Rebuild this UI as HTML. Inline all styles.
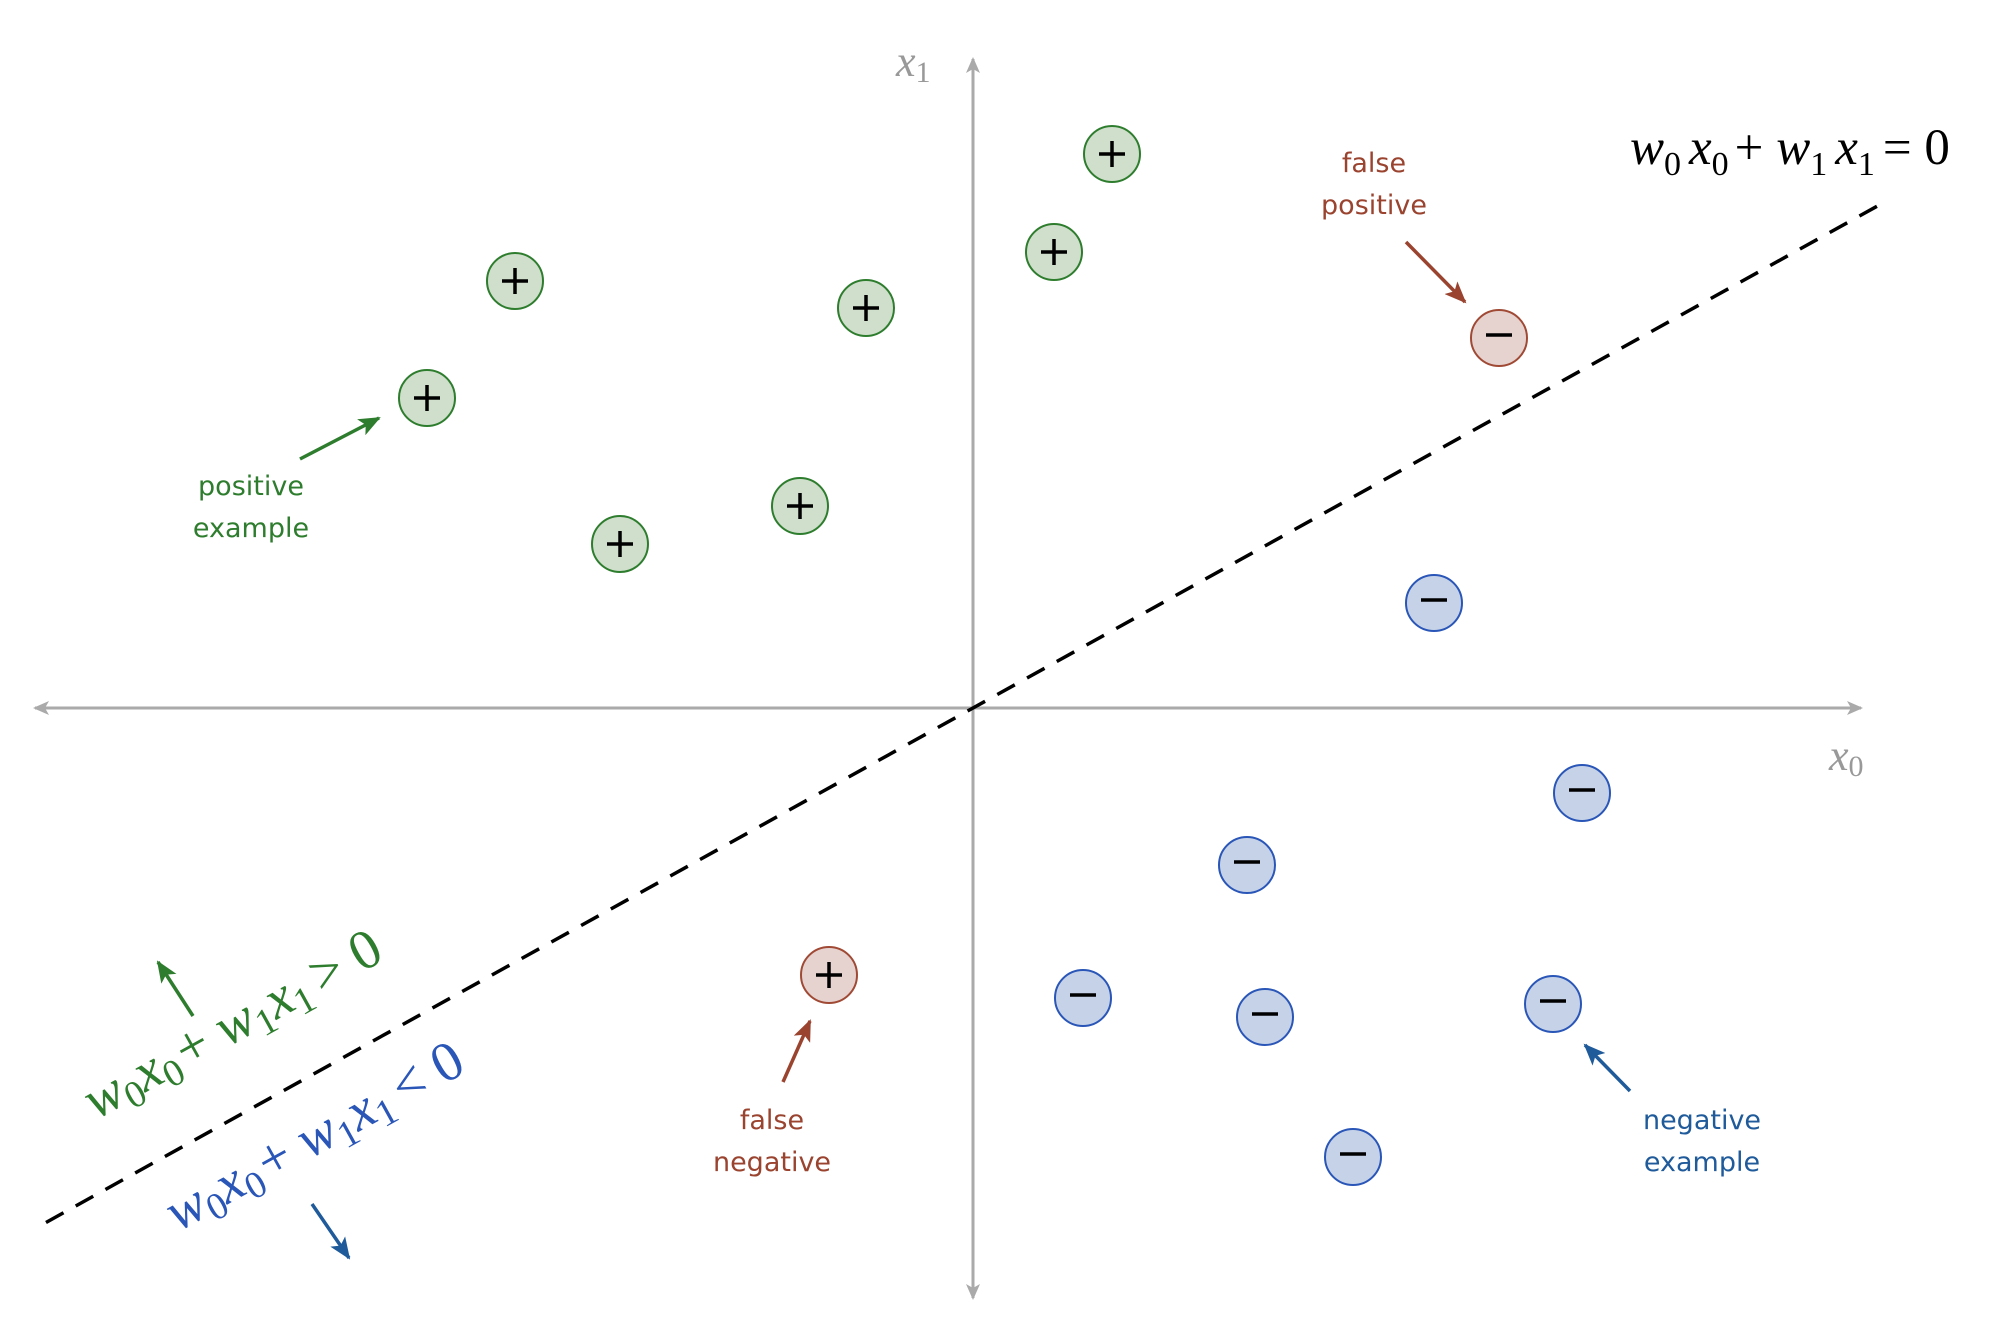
<!DOCTYPE html>
<html><head><meta charset="utf-8"><style>
html,body{margin:0;padding:0;background:#fff;}
svg{display:block;}
.eq{font-family:"Liberation Serif",serif;font-style:italic;}
.lbl{font-family:"DejaVu Sans","Liberation Sans",sans-serif;font-size:27px;text-anchor:middle;}
</style></head><body>
<svg id="chart" width="1999" height="1318" viewBox="0 0 1999 1318" xmlns="http://www.w3.org/2000/svg">
<defs>
<marker id="ag" markerWidth="16" markerHeight="14" refX="14" refY="7" orient="auto" markerUnits="userSpaceOnUse"><path d="M0,0 L16,7 L0,14 L4,7 Z" fill="#aaa"/></marker>
<marker id="agr" markerWidth="22" markerHeight="18" refX="20" refY="9" orient="auto" markerUnits="userSpaceOnUse"><path d="M0,0 L22,9 L0,18 L5,9 Z" fill="#2e7d2e"/></marker>
<marker id="abl" markerWidth="22" markerHeight="18" refX="20" refY="9" orient="auto" markerUnits="userSpaceOnUse"><path d="M0,0 L22,9 L0,18 L5,9 Z" fill="#1f5a9a"/></marker>
<marker id="ard" markerWidth="22" markerHeight="18" refX="20" refY="9" orient="auto" markerUnits="userSpaceOnUse"><path d="M0,0 L22,9 L0,18 L5,9 Z" fill="#9a4430"/></marker>
</defs>
<line x1="973" y1="708" x2="1861" y2="708" stroke="#aaa" stroke-width="3" marker-end="url(#ag)"/>
<line x1="973" y1="708" x2="35" y2="708" stroke="#aaa" stroke-width="3" marker-end="url(#ag)"/>
<line x1="973" y1="708" x2="973" y2="59" stroke="#aaa" stroke-width="3" marker-end="url(#ag)"/>
<line x1="973" y1="708" x2="973" y2="1298" stroke="#aaa" stroke-width="3" marker-end="url(#ag)"/>
<text class="eq" x="896" y="76" font-size="44" fill="#999">x<tspan font-size="30" font-style="normal" dy="6">1</tspan></text>
<text class="eq" x="1829" y="770" font-size="44" fill="#999">x<tspan font-size="30" font-style="normal" dy="6">0</tspan></text>
<g id="boundary"></g>
<g id="points"></g>
<text class="eq" x="1630" y="164" font-size="51" fill="#000">w<tspan font-size="34" font-style="normal" dy="11">0</tspan><tspan dy="-11" dx="8">x</tspan><tspan font-size="34" font-style="normal" dy="11">0</tspan><tspan dy="-11" dx="6" font-style="normal">+ </tspan><tspan>w</tspan><tspan font-size="34" font-style="normal" dy="11">1</tspan><tspan dy="-11" dx="8">x</tspan><tspan font-size="34" font-style="normal" dy="11">1</tspan><tspan dy="-11" dx="8" font-style="normal">= 0</tspan></text>
<text class="eq" transform="translate(96,1120) rotate(-29)" font-size="56" fill="#2e7d2e">w<tspan font-size="38" font-style="normal" dy="9">0</tspan><tspan dy="-9">x</tspan><tspan font-size="38" font-style="normal" dy="9">0</tspan><tspan dy="-9" dx="4" font-style="normal">+ </tspan><tspan>w</tspan><tspan font-size="38" font-style="normal" dy="9">1</tspan><tspan dy="-9">x</tspan><tspan font-size="38" font-style="normal" dy="9">1</tspan><tspan dy="-9" dx="8" font-style="normal">&gt; 0</tspan></text>
<text class="eq" transform="translate(178,1232) rotate(-29)" font-size="56" fill="#2a56b8">w<tspan font-size="38" font-style="normal" dy="9">0</tspan><tspan dy="-9">x</tspan><tspan font-size="38" font-style="normal" dy="9">0</tspan><tspan dy="-9" dx="4" font-style="normal">+ </tspan><tspan>w</tspan><tspan font-size="38" font-style="normal" dy="9">1</tspan><tspan dy="-9">x</tspan><tspan font-size="38" font-style="normal" dy="9">1</tspan><tspan dy="-9" dx="8" font-style="normal">&lt; 0</tspan></text>
<line x1="193" y1="1016" x2="158" y2="962" stroke="#2e7d2e" stroke-width="3.5" marker-end="url(#agr)"/>
<line x1="312" y1="1204" x2="349" y2="1258" stroke="#1f5a9a" stroke-width="3.5" marker-end="url(#abl)"/>
<text class="lbl" fill="#2e7d2e" x="251" y="495">positive<tspan x="251" dy="42">example</tspan></text>
<line x1="300" y1="459" x2="379" y2="418" stroke="#2e7d2e" stroke-width="3.5" marker-end="url(#agr)"/>
<text class="lbl" fill="#9a4430" x="1374" y="172">false<tspan x="1374" dy="42">positive</tspan></text>
<line x1="1406" y1="242" x2="1465" y2="302" stroke="#9a4430" stroke-width="3.5" marker-end="url(#ard)"/>
<text class="lbl" fill="#9a4430" x="772" y="1129">false<tspan x="772" dy="42">negative</tspan></text>
<line x1="783" y1="1082" x2="810" y2="1021" stroke="#9a4430" stroke-width="3.5" marker-end="url(#ard)"/>
<text class="lbl" fill="#1f5a9a" x="1702" y="1129">negative<tspan x="1702" dy="42">example</tspan></text>
<line x1="1630" y1="1091" x2="1585" y2="1045" stroke="#1f5a9a" stroke-width="3.5" marker-end="url(#abl)"/>
</svg>
<script>
const posX = [-4.58, -1.07, -5.46, -1.73, -3.53, 1.39, 0.81];
const posY = [4.27, 4.00, 3.10, 2.02, 1.64, 5.54, 4.56];
const negX = [4.61, 6.09, 2.74, 1.10, 2.92, 5.80, 3.80];
const negY = [1.05, -0.85, -1.57, -2.90, -3.09, -2.96, -4.49];
const fpX = [5.26];
const fpY = [3.70];
const fnX = [-1.44];
const fnY = [-2.67];
const boundarySlope = 0.555;
const boundaryRange = [-9.27, 9.07];

const OX = 973, OY = 708, UNIT = 100;
function sx(v){ return OX + v * UNIT; }
function sy(v){ return OY - v * UNIT; }
const NS = 'http://www.w3.org/2000/svg';

const bg = document.getElementById('boundary');
const bl = document.createElementNS(NS, 'line');


bl.setAttribute('x1', sx(boundaryRange[0]));
bl.setAttribute('y1', sy(boundaryRange[0] * boundarySlope));
bl.setAttribute('x2', sx(boundaryRange[1]));
bl.setAttribute('y2', sy(boundaryRange[1] * boundarySlope));
bl.setAttribute('stroke', '#000');
bl.setAttribute('stroke-width', '3.5');
bl.setAttribute('stroke-dasharray', '20 14');
bg.appendChild(bl);

const pg = document.getElementById('points');
function drawPoint(x, y, fill, stroke, sign, name){
  const g = document.createElementNS(NS, 'g');
  
  
  const cx = sx(x), cy = sy(y);
  const c = document.createElementNS(NS, 'circle');
  c.setAttribute('cx', cx); c.setAttribute('cy', cy); c.setAttribute('r', 28);
  c.setAttribute('fill', fill); c.setAttribute('stroke', stroke); c.setAttribute('stroke-width', '2');
  g.appendChild(c);
  const h = document.createElementNS(NS, 'line');
  h.setAttribute('x1', cx - 13); h.setAttribute('x2', cx + 13);
  h.setAttribute('y1', sign === '+' ? cy : cy - 3); h.setAttribute('y2', sign === '+' ? cy : cy - 3);
  h.setAttribute('stroke', '#000'); h.setAttribute('stroke-width', '3.5');
  g.appendChild(h);
  if (sign === '+') {
    const v = document.createElementNS(NS, 'line');
    v.setAttribute('x1', cx); v.setAttribute('x2', cx);
    v.setAttribute('y1', cy - 13); v.setAttribute('y2', cy + 13);
    v.setAttribute('stroke', '#000'); v.setAttribute('stroke-width', '3.5');
    g.appendChild(v);
  }
  pg.appendChild(g);
}
for (let i = 0; i < posX.length; i++) drawPoint(posX[i], posY[i], '#cfdfcb', '#2e7d2e', '+', 'positive-example-point');
for (let i = 0; i < negX.length; i++) drawPoint(negX[i], negY[i], '#c5d2e8', '#2a56b8', '-', 'negative-example-point');
for (let i = 0; i < fpX.length; i++) drawPoint(fpX[i], fpY[i], '#e6d3d0', '#a04a35', '-', 'false-positive-point');
for (let i = 0; i < fnX.length; i++) drawPoint(fnX[i], fnY[i], '#e6d3d0', '#a04a35', '+', 'false-negative-point');
</script>
</body></html>
